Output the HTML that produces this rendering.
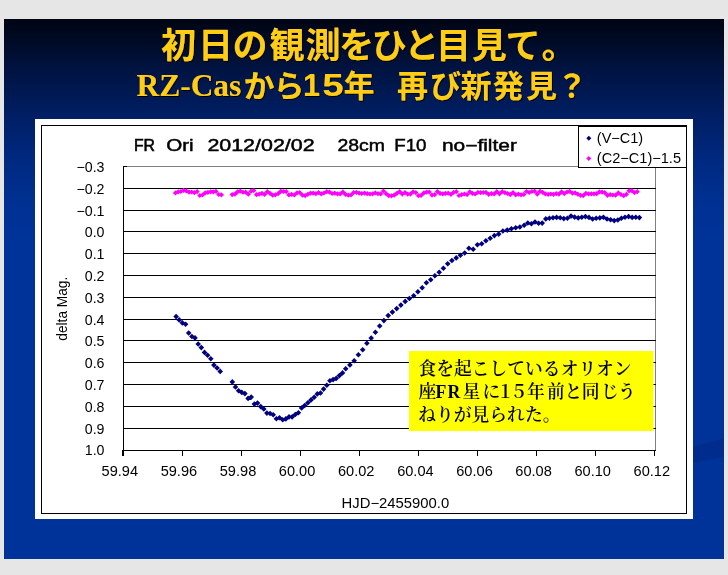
<!DOCTYPE html>
<html lang="ja">
<head>
<meta charset="utf-8">
<title>初日の観測をひと目見て。</title>
<style>
html,body{margin:0;padding:0;}
body{width:728px;height:575px;background:#e6e6e6;overflow:hidden;position:relative;font-family:"Liberation Sans","Noto Sans CJK JP",sans-serif;}
#slide{position:absolute;left:4px;top:19px;width:720px;height:540px;background:linear-gradient(to bottom,rgb(0,5,20) 0px,rgb(0,11,40) 25px,rgb(0,19,65) 50px,rgb(0,31,102) 100px,rgb(0,41,128) 140px,rgb(0,48,145) 180px,rgb(0,51,153) 220px,rgb(0,51,153) 540px);overflow:hidden;}
svg{position:absolute;left:0;top:0;}
.title text{font-family:"Liberation Sans","Noto Sans CJK JP",sans-serif;font-weight:bold;}
.title .rz{font-family:"Liberation Serif","Noto Serif CJK SC",serif;font-weight:bold;}
.lbl text{font-family:"Liberation Sans","Noto Sans CJK JP",sans-serif;font-size:14.2px;fill:#000;}
.lbl .ct text{font-size:16px;font-weight:normal;stroke:#000;stroke-width:0.45px;}
.note text{font-family:"Liberation Serif","Noto Serif CJK SC",serif;font-weight:600;font-size:17.8px;fill:#000;}
</style>
</head>
<body>
<div id="slide"></div>
<svg width="728" height="575" viewBox="0 0 728 575">
  <defs>
  <filter id="sh" x="-5%" y="-20%" width="110%" height="140%">
    <feOffset in="SourceAlpha" dx="1.3" dy="1.3" result="o"/>
    <feMerge><feMergeNode in="o"/><feMergeNode in="SourceGraphic"/></feMerge>
  </filter>
  </defs>
  <!-- template swoosh -->
  <path d="M693 446.5 L724 438 L724 457 L693 463 Z" fill="#001a66" fill-opacity="0.22"/>
  <!-- chart object -->
  <rect x="35" y="119" width="658" height="400" fill="#ffffff"/>
  <rect x="41.5" y="125.5" width="645" height="388" fill="#ffffff" stroke="#000" stroke-width="1"/>
  <!-- plot area -->
  <g shape-rendering="crispEdges">
  <rect x="123.5" y="166.5" width="532" height="283.5" fill="#fff" stroke="#808080" stroke-width="1"/>
  <g stroke="#000" stroke-width="1">
  <line x1="123" y1="188.5" x2="655.5" y2="188.5"/><line x1="123" y1="210.5" x2="655.5" y2="210.5"/><line x1="123" y1="231.5" x2="655.5" y2="231.5"/><line x1="123" y1="253.5" x2="655.5" y2="253.5"/><line x1="123" y1="275.5" x2="655.5" y2="275.5"/><line x1="123" y1="297.5" x2="655.5" y2="297.5"/><line x1="123" y1="319.5" x2="655.5" y2="319.5"/><line x1="123" y1="340.5" x2="655.5" y2="340.5"/><line x1="123" y1="362.5" x2="655.5" y2="362.5"/><line x1="123" y1="384.5" x2="655.5" y2="384.5"/><line x1="123" y1="406.5" x2="655.5" y2="406.5"/><line x1="123" y1="428.5" x2="655.5" y2="428.5"/>
  <line x1="123.5" y1="166" x2="123.5" y2="455.5"/>
  <line x1="123" y1="450.5" x2="656" y2="450.5"/>
  <line x1="123" y1="166.5" x2="127" y2="166.5"/>
  <line x1="122.5" y1="450" x2="122.5" y2="455.5"/><line x1="182.5" y1="450" x2="182.5" y2="455.5"/><line x1="241.5" y1="450" x2="241.5" y2="455.5"/><line x1="300.5" y1="450" x2="300.5" y2="455.5"/><line x1="359.5" y1="450" x2="359.5" y2="455.5"/><line x1="418.5" y1="450" x2="418.5" y2="455.5"/><line x1="477.5" y1="450" x2="477.5" y2="455.5"/><line x1="536.5" y1="450" x2="536.5" y2="455.5"/><line x1="595.5" y1="450" x2="595.5" y2="455.5"/><line x1="654.5" y1="450" x2="654.5" y2="455.5"/>
  </g>
  </g>
  <!-- series -->
  <path fill="#ff00ff" d="M172.9 192.9L175.5 190.3L178.1 192.9L175.5 195.5ZM175.6 191.8L178.2 189.2L180.8 191.8L178.2 194.4ZM178.3 191.5L180.9 188.9L183.5 191.5L180.9 194.1ZM181.0 190.4L183.6 187.8L186.2 190.4L183.6 193.0ZM183.7 190.9L186.3 188.3L188.9 190.9L186.3 193.5ZM186.4 192.1L189.0 189.5L191.6 192.1L189.0 194.7ZM189.1 192.0L191.7 189.4L194.3 192.0L191.7 194.6ZM191.8 192.7L194.4 190.1L197.0 192.7L194.4 195.3ZM194.5 191.6L197.1 189.0L199.7 191.6L197.1 194.2ZM197.2 195.5L199.8 192.9L202.4 195.5L199.8 198.1ZM199.9 195.0L202.5 192.4L205.1 195.0L202.5 197.6ZM202.6 192.9L205.2 190.3L207.8 192.9L205.2 195.5ZM205.3 192.3L207.9 189.7L210.5 192.3L207.9 194.9ZM208.0 191.8L210.6 189.2L213.2 191.8L210.6 194.4ZM210.7 191.8L213.3 189.2L215.9 191.8L213.3 194.4ZM213.4 191.4L216.0 188.8L218.6 191.4L216.0 194.0ZM216.1 194.5L218.7 191.9L221.3 194.5L218.7 197.1ZM218.8 194.8L221.4 192.2L224.0 194.8L221.4 197.4ZM229.6 194.6L232.2 192.0L234.8 194.6L232.2 197.2ZM232.3 194.2L234.9 191.6L237.5 194.2L234.9 196.8ZM235.0 191.8L237.6 189.2L240.2 191.8L237.6 194.4ZM237.7 191.2L240.3 188.6L242.9 191.2L240.3 193.8ZM240.4 192.2L243.0 189.6L245.6 192.2L243.0 194.8ZM243.1 192.2L245.7 189.6L248.3 192.2L245.7 194.8ZM245.8 194.2L248.4 191.6L251.0 194.2L248.4 196.8ZM248.5 191.2L251.1 188.6L253.7 191.2L251.1 193.8ZM251.2 190.5L253.8 187.9L256.4 190.5L253.8 193.1ZM253.9 194.7L256.5 192.1L259.1 194.7L256.5 197.3ZM256.6 194.2L259.2 191.6L261.8 194.2L259.2 196.8ZM259.3 193.3L261.9 190.7L264.5 193.3L261.9 195.9ZM262.0 194.4L264.6 191.8L267.2 194.4L264.6 197.0ZM264.7 191.7L267.3 189.1L269.9 191.7L267.3 194.3ZM267.4 193.3L270.0 190.7L272.6 193.3L270.0 195.9ZM270.1 195.2L272.7 192.6L275.3 195.2L272.7 197.8ZM272.8 194.8L275.4 192.2L278.0 194.8L275.4 197.4ZM275.5 193.7L278.1 191.1L280.7 193.7L278.1 196.3ZM278.2 191.3L280.8 188.7L283.4 191.3L280.8 193.9ZM280.9 191.5L283.5 188.9L286.1 191.5L283.5 194.1ZM283.6 191.6L286.2 189.0L288.8 191.6L286.2 194.2ZM286.3 194.9L288.9 192.3L291.5 194.9L288.9 197.5ZM289.0 194.4L291.6 191.8L294.2 194.4L291.6 197.0ZM291.7 195.0L294.3 192.4L296.9 195.0L294.3 197.6ZM294.4 192.9L297.0 190.3L299.6 192.9L297.0 195.5ZM297.1 192.5L299.7 189.9L302.3 192.5L299.7 195.1ZM299.8 195.1L302.4 192.5L305.0 195.1L302.4 197.7ZM302.5 195.6L305.1 193.0L307.7 195.6L305.1 198.2ZM305.2 194.3L307.8 191.7L310.4 194.3L307.8 196.9ZM307.9 193.2L310.5 190.6L313.1 193.2L310.5 195.8ZM310.6 193.2L313.2 190.6L315.8 193.2L313.2 195.8ZM313.3 193.7L315.9 191.1L318.5 193.7L315.9 196.3ZM316.0 192.6L318.6 190.0L321.2 192.6L318.6 195.2ZM318.7 193.9L321.3 191.3L323.9 193.9L321.3 196.5ZM321.4 193.0L324.0 190.4L326.6 193.0L324.0 195.6ZM324.1 191.7L326.7 189.1L329.3 191.7L326.7 194.3ZM326.8 192.1L329.4 189.5L332.0 192.1L329.4 194.7ZM329.5 193.5L332.1 190.9L334.7 193.5L332.1 196.1ZM332.2 193.2L334.8 190.6L337.4 193.2L334.8 195.8ZM334.9 193.8L337.5 191.2L340.1 193.8L337.5 196.4ZM337.6 193.9L340.2 191.3L342.8 193.9L340.2 196.5ZM340.3 191.9L342.9 189.3L345.5 191.9L342.9 194.5ZM343.0 194.4L345.6 191.8L348.2 194.4L345.6 197.0ZM345.7 195.2L348.3 192.6L350.9 195.2L348.3 197.8ZM348.4 195.0L351.0 192.4L353.6 195.0L351.0 197.6ZM351.1 192.5L353.7 189.9L356.3 192.5L353.7 195.1ZM353.8 192.3L356.4 189.7L359.0 192.3L356.4 194.9ZM356.5 193.1L359.1 190.5L361.7 193.1L359.1 195.7ZM359.2 193.5L361.8 190.9L364.4 193.5L361.8 196.1ZM361.9 193.1L364.5 190.5L367.1 193.1L364.5 195.7ZM364.6 193.7L367.2 191.1L369.8 193.7L367.2 196.3ZM367.3 194.0L369.9 191.4L372.5 194.0L369.9 196.6ZM370.0 193.8L372.6 191.2L375.2 193.8L372.6 196.4ZM372.7 192.9L375.3 190.3L377.9 192.9L375.3 195.5ZM375.4 193.7L378.0 191.1L380.6 193.7L378.0 196.3ZM378.1 193.9L380.7 191.3L383.3 193.9L380.7 196.5ZM380.8 191.0L383.4 188.4L386.0 191.0L383.4 193.6ZM383.5 193.7L386.1 191.1L388.7 193.7L386.1 196.3ZM386.2 195.7L388.8 193.1L391.4 195.7L388.8 198.3ZM388.9 195.8L391.5 193.2L394.1 195.8L391.5 198.4ZM391.6 195.2L394.2 192.6L396.8 195.2L394.2 197.8ZM394.3 193.3L396.9 190.7L399.5 193.3L396.9 195.9ZM397.0 191.7L399.6 189.1L402.2 191.7L399.6 194.3ZM399.7 194.1L402.3 191.5L404.9 194.1L402.3 196.7ZM402.4 192.6L405.0 190.0L407.6 192.6L405.0 195.2ZM405.1 194.1L407.7 191.5L410.3 194.1L407.7 196.7ZM407.8 194.1L410.4 191.5L413.0 194.1L410.4 196.7ZM410.5 191.8L413.1 189.2L415.7 191.8L413.1 194.4ZM413.2 192.6L415.8 190.0L418.4 192.6L415.8 195.2ZM415.9 195.7L418.5 193.1L421.1 195.7L418.5 198.3ZM418.6 195.3L421.2 192.7L423.8 195.3L421.2 197.9ZM421.3 192.9L423.9 190.3L426.5 192.9L423.9 195.5ZM424.0 192.1L426.6 189.5L429.2 192.1L426.6 194.7ZM426.7 192.0L429.3 189.4L431.9 192.0L429.3 194.6ZM429.4 195.1L432.0 192.5L434.6 195.1L432.0 197.7ZM432.1 194.7L434.7 192.1L437.3 194.7L434.7 197.3ZM434.8 191.6L437.4 189.0L440.0 191.6L437.4 194.2ZM437.5 193.4L440.1 190.8L442.7 193.4L440.1 196.0ZM440.2 193.8L442.8 191.2L445.4 193.8L442.8 196.4ZM442.9 193.4L445.5 190.8L448.1 193.4L445.5 196.0ZM445.6 193.2L448.2 190.6L450.8 193.2L448.2 195.8ZM448.3 194.3L450.9 191.7L453.5 194.3L450.9 196.9ZM451.0 192.4L453.6 189.8L456.2 192.4L453.6 195.0ZM453.7 191.7L456.3 189.1L458.9 191.7L456.3 194.3ZM456.4 195.5L459.0 192.9L461.6 195.5L459.0 198.1ZM459.1 194.7L461.7 192.1L464.3 194.7L461.7 197.3ZM461.8 194.0L464.4 191.4L467.0 194.0L464.4 196.6ZM464.5 194.6L467.1 192.0L469.7 194.6L467.1 197.2ZM467.2 191.8L469.8 189.2L472.4 191.8L469.8 194.4ZM469.9 193.4L472.5 190.8L475.1 193.4L472.5 196.0ZM472.6 194.0L475.2 191.4L477.8 194.0L475.2 196.6ZM475.3 192.4L477.9 189.8L480.5 192.4L477.9 195.0ZM478.0 192.7L480.6 190.1L483.2 192.7L480.6 195.3ZM480.7 192.5L483.3 189.9L485.9 192.5L483.3 195.1ZM483.4 192.4L486.0 189.8L488.6 192.4L486.0 195.0ZM486.1 194.3L488.7 191.7L491.3 194.3L488.7 196.9ZM488.8 193.6L491.4 191.0L494.0 193.6L491.4 196.2ZM491.5 193.9L494.1 191.3L496.7 193.9L494.1 196.5ZM494.2 191.7L496.8 189.1L499.4 191.7L496.8 194.3ZM496.9 193.8L499.5 191.2L502.1 193.8L499.5 196.4ZM499.6 191.7L502.2 189.1L504.8 191.7L502.2 194.3ZM502.3 192.7L504.9 190.1L507.5 192.7L504.9 195.3ZM505.0 193.5L507.6 190.9L510.2 193.5L507.6 196.1ZM507.7 194.6L510.3 192.0L512.9 194.6L510.3 197.2ZM510.4 192.5L513.0 189.9L515.6 192.5L513.0 195.1ZM513.1 194.8L515.7 192.2L518.3 194.8L515.7 197.4ZM515.8 194.1L518.4 191.5L521.0 194.1L518.4 196.7ZM518.5 194.8L521.1 192.2L523.7 194.8L521.1 197.4ZM521.2 194.4L523.8 191.8L526.4 194.4L523.8 197.0ZM523.9 191.5L526.5 188.9L529.1 191.5L526.5 194.1ZM526.6 192.4L529.2 189.8L531.8 192.4L529.2 195.0ZM529.3 191.5L531.9 188.9L534.5 191.5L531.9 194.1ZM532.0 191.2L534.6 188.6L537.2 191.2L534.6 193.8ZM534.7 194.1L537.3 191.5L539.9 194.1L537.3 196.7ZM537.4 191.3L540.0 188.7L542.6 191.3L540.0 193.9ZM540.1 192.3L542.7 189.7L545.3 192.3L542.7 194.9ZM542.8 193.9L545.4 191.3L548.0 193.9L545.4 196.5ZM545.5 194.3L548.1 191.7L550.7 194.3L548.1 196.9ZM548.2 194.0L550.8 191.4L553.4 194.0L550.8 196.6ZM550.9 194.3L553.5 191.7L556.1 194.3L553.5 196.9ZM553.6 193.7L556.2 191.1L558.8 193.7L556.2 196.3ZM556.3 194.1L558.9 191.5L561.5 194.1L558.9 196.7ZM559.0 191.8L561.6 189.2L564.2 191.8L561.6 194.4ZM561.7 193.6L564.3 191.0L566.9 193.6L564.3 196.2ZM564.4 192.0L567.0 189.4L569.6 192.0L567.0 194.6ZM567.1 191.4L569.7 188.8L572.3 191.4L569.7 194.0ZM569.8 193.1L572.4 190.5L575.0 193.1L572.4 195.7ZM572.5 192.9L575.1 190.3L577.7 192.9L575.1 195.5ZM575.2 194.2L577.8 191.6L580.4 194.2L577.8 196.8ZM577.9 195.3L580.5 192.7L583.1 195.3L580.5 197.9ZM580.6 195.6L583.2 193.0L585.8 195.6L583.2 198.2ZM583.3 193.3L585.9 190.7L588.5 193.3L585.9 195.9ZM586.0 193.9L588.6 191.3L591.2 193.9L588.6 196.5ZM588.7 193.8L591.3 191.2L593.9 193.8L591.3 196.4ZM591.4 193.8L594.0 191.2L596.6 193.8L594.0 196.4ZM594.1 193.7L596.7 191.1L599.3 193.7L596.7 196.3ZM596.8 191.9L599.4 189.3L602.0 191.9L599.4 194.5ZM599.5 192.1L602.1 189.5L604.7 192.1L602.1 194.7ZM602.2 192.7L604.8 190.1L607.4 192.7L604.8 195.3ZM604.9 195.3L607.5 192.7L610.1 195.3L607.5 197.9ZM607.6 194.7L610.2 192.1L612.8 194.7L610.2 197.3ZM610.3 195.0L612.9 192.4L615.5 195.0L612.9 197.6ZM613.0 195.2L615.6 192.6L618.2 195.2L615.6 197.8ZM615.7 192.9L618.3 190.3L620.9 192.9L618.3 195.5ZM618.4 194.5L621.0 191.9L623.6 194.5L621.0 197.1ZM621.1 195.7L623.7 193.1L626.3 195.7L623.7 198.3ZM623.8 194.3L626.4 191.7L629.0 194.3L626.4 196.9ZM626.5 190.8L629.1 188.2L631.7 190.8L629.1 193.4ZM629.2 190.7L631.8 188.1L634.4 190.7L631.8 193.3ZM631.9 192.6L634.5 190.0L637.1 192.6L634.5 195.2ZM634.6 191.7L637.2 189.1L639.8 191.7L637.2 194.3Z"/>
  <path fill="#000080" d="M173.3 316.6L176.1 313.8L178.9 316.6L176.1 319.4ZM176.4 319.9L179.2 317.1L182.0 319.9L179.2 322.7ZM179.6 322.9L182.4 320.1L185.2 322.9L182.4 325.7ZM182.8 324.2L185.6 321.4L188.4 324.2L185.6 327.0ZM185.9 333.0L188.7 330.2L191.5 333.0L188.7 335.8ZM189.1 336.5L191.9 333.7L194.7 336.5L191.9 339.3ZM192.2 337.9L195.0 335.1L197.8 337.9L195.0 340.7ZM195.4 344.0L198.2 341.2L201.0 344.0L198.2 346.8ZM198.5 347.6L201.3 344.8L204.1 347.6L201.3 350.4ZM201.7 352.4L204.5 349.6L207.3 352.4L204.5 355.2ZM204.8 355.3L207.6 352.5L210.4 355.3L207.6 358.1ZM208.0 358.8L210.8 356.0L213.6 358.8L210.8 361.6ZM211.1 365.1L213.9 362.3L216.7 365.1L213.9 367.9ZM214.3 368.0L217.1 365.2L219.9 368.0L217.1 370.8ZM217.4 371.4L220.2 368.6L223.0 371.4L220.2 374.2ZM229.5 381.9L232.3 379.1L235.1 381.9L232.3 384.7ZM232.7 387.0L235.5 384.2L238.3 387.0L235.5 389.8ZM235.8 390.7L238.6 387.9L241.4 390.7L238.6 393.5ZM239.0 392.4L241.8 389.6L244.6 392.4L241.8 395.2ZM242.1 393.6L244.9 390.8L247.7 393.6L244.9 396.4ZM245.3 398.4L248.1 395.6L250.9 398.4L248.1 401.2ZM248.4 397.1L251.2 394.3L254.0 397.1L251.2 399.9ZM251.6 404.1L254.4 401.3L257.2 404.1L254.4 406.9ZM254.7 403.1L257.5 400.3L260.3 403.1L257.5 405.9ZM257.9 406.6L260.7 403.8L263.5 406.6L260.7 409.4ZM261.0 409.0L263.8 406.2L266.6 409.0L263.8 411.8ZM264.1 413.1L266.9 410.3L269.7 413.1L266.9 415.9ZM267.3 413.5L270.1 410.7L272.9 413.5L270.1 416.3ZM270.4 414.8L273.2 412.0L276.0 414.8L273.2 417.6ZM273.6 418.8L276.4 416.0L279.2 418.8L276.4 421.6ZM276.7 417.8L279.5 415.0L282.3 417.8L279.5 420.6ZM279.9 419.7L282.7 416.9L285.5 419.7L282.7 422.5ZM283.0 418.9L285.8 416.1L288.6 418.9L285.8 421.7ZM286.2 416.9L289.0 414.1L291.8 416.9L289.0 419.7ZM289.3 416.9L292.1 414.1L294.9 416.9L292.1 419.7ZM292.5 414.5L295.3 411.7L298.1 414.5L295.3 417.3ZM295.6 412.8L298.4 410.0L301.2 412.8L298.4 415.6ZM298.8 407.9L301.6 405.1L304.4 407.9L301.6 410.7ZM301.9 405.5L304.7 402.7L307.5 405.5L304.7 408.3ZM305.1 402.7L307.9 399.9L310.7 402.7L307.9 405.5ZM308.2 399.9L311.0 397.1L313.8 399.9L311.0 402.7ZM311.4 397.2L314.2 394.4L317.0 397.2L314.2 400.0ZM314.5 393.9L317.3 391.1L320.1 393.9L317.3 396.7ZM317.7 393.0L320.5 390.2L323.3 393.0L320.5 395.8ZM320.8 389.1L323.6 386.3L326.4 389.1L323.6 391.9ZM324.0 385.2L326.8 382.4L329.6 385.2L326.8 388.0ZM327.1 380.8L329.9 378.0L332.7 380.8L329.9 383.6ZM330.3 379.6L333.1 376.8L335.9 379.6L333.1 382.4ZM333.4 378.4L336.2 375.6L339.0 378.4L336.2 381.2ZM336.6 375.6L339.4 372.8L342.2 375.6L339.4 378.4ZM339.7 372.9L342.5 370.1L345.3 372.9L342.5 375.7ZM342.9 368.8L345.7 366.0L348.5 368.8L345.7 371.6ZM347.1 364.9L349.9 362.1L352.7 364.9L349.9 367.7ZM351.4 360.7L354.2 357.9L357.0 360.7L354.2 363.5ZM355.6 354.8L358.4 352.0L361.2 354.8L358.4 357.6ZM359.9 349.7L362.7 346.9L365.5 349.7L362.7 352.5ZM364.1 343.2L366.9 340.4L369.7 343.2L366.9 346.0ZM368.4 338.1L371.2 335.3L374.0 338.1L371.2 340.9ZM372.6 332.2L375.4 329.4L378.2 332.2L375.4 335.0ZM376.9 326.0L379.7 323.2L382.5 326.0L379.7 328.8ZM381.1 320.6L383.9 317.8L386.7 320.6L383.9 323.4ZM385.4 315.6L388.2 312.8L391.0 315.6L388.2 318.4ZM389.6 312.1L392.4 309.3L395.2 312.1L392.4 314.9ZM393.9 308.6L396.7 305.8L399.5 308.6L396.7 311.4ZM398.1 305.1L400.9 302.3L403.7 305.1L400.9 307.9ZM402.4 301.4L405.2 298.6L408.0 301.4L405.2 304.2ZM406.6 298.5L409.4 295.7L412.2 298.5L409.4 301.3ZM410.9 295.8L413.7 293.0L416.5 295.8L413.7 298.6ZM415.1 291.7L417.9 288.9L420.7 291.7L417.9 294.5ZM419.4 287.7L422.2 284.9L425.0 287.7L422.2 290.5ZM423.6 282.7L426.4 279.9L429.2 282.7L426.4 285.5ZM427.9 279.7L430.7 276.9L433.5 279.7L430.7 282.5ZM432.1 275.7L434.9 272.9L437.7 275.7L434.9 278.5ZM436.4 272.3L439.2 269.5L442.0 272.3L439.2 275.1ZM440.6 268.2L443.4 265.4L446.2 268.2L443.4 271.0ZM444.9 263.7L447.7 260.9L450.5 263.7L447.7 266.5ZM449.1 260.5L451.9 257.7L454.7 260.5L451.9 263.3ZM453.4 257.9L456.2 255.1L459.0 257.9L456.2 260.7ZM457.6 255.2L460.4 252.4L463.2 255.2L460.4 258.0ZM461.9 253.0L464.7 250.2L467.5 253.0L464.7 255.8ZM466.1 248.3L468.9 245.5L471.7 248.3L468.9 251.1ZM470.4 249.2L473.2 246.4L476.0 249.2L473.2 252.0ZM474.6 244.8L477.4 242.0L480.2 244.8L477.4 247.6ZM478.9 243.8L481.7 241.0L484.5 243.8L481.7 246.6ZM483.1 240.7L485.9 237.9L488.7 240.7L485.9 243.5ZM487.4 238.3L490.2 235.5L493.0 238.3L490.2 241.1ZM491.6 235.6L494.4 232.8L497.2 235.6L494.4 238.4ZM495.9 234.1L498.7 231.3L501.5 234.1L498.7 236.9ZM500.1 231.0L502.9 228.2L505.7 231.0L502.9 233.8ZM504.4 230.1L507.2 227.3L510.0 230.1L507.2 232.9ZM508.6 228.7L511.4 225.9L514.2 228.7L511.4 231.5ZM512.9 227.8L515.7 225.0L518.5 227.8L515.7 230.6ZM517.1 227.0L519.9 224.2L522.7 227.0L519.9 229.8ZM521.4 225.2L524.2 222.4L527.0 225.2L524.2 228.0ZM525.0 223.0L527.8 220.2L530.6 223.0L527.8 225.8ZM528.6 223.7L531.4 220.9L534.2 223.7L531.4 226.5ZM532.2 222.0L535.0 219.2L537.8 222.0L535.0 224.8ZM535.8 223.2L538.6 220.4L541.4 223.2L538.6 226.0ZM539.4 223.1L542.2 220.3L545.0 223.1L542.2 225.9ZM543.0 218.9L545.8 216.1L548.6 218.9L545.8 221.7ZM546.6 218.2L549.4 215.4L552.2 218.2L549.4 221.0ZM550.2 217.7L553.0 214.9L555.8 217.7L553.0 220.5ZM553.8 217.4L556.6 214.6L559.4 217.4L556.6 220.2ZM557.4 217.7L560.2 214.9L563.0 217.7L560.2 220.5ZM561.0 218.6L563.8 215.8L566.6 218.6L563.8 221.4ZM564.6 218.2L567.4 215.4L570.2 218.2L567.4 221.0ZM568.2 216.1L571.0 213.3L573.8 216.1L571.0 218.9ZM571.8 217.1L574.6 214.3L577.4 217.1L574.6 219.9ZM575.4 217.9L578.2 215.1L581.0 217.9L578.2 220.7ZM579.0 217.3L581.8 214.5L584.6 217.3L581.8 220.1ZM582.6 216.6L585.4 213.8L588.2 216.6L585.4 219.4ZM586.2 217.4L589.0 214.6L591.8 217.4L589.0 220.2ZM589.8 219.0L592.6 216.2L595.4 219.0L592.6 221.8ZM593.4 218.3L596.2 215.5L599.0 218.3L596.2 221.1ZM597.0 217.9L599.8 215.1L602.6 217.9L599.8 220.7ZM600.6 217.3L603.4 214.5L606.2 217.3L603.4 220.1ZM604.2 219.0L607.0 216.2L609.8 219.0L607.0 221.8ZM607.8 219.8L610.6 217.0L613.4 219.8L610.6 222.6ZM611.4 220.6L614.2 217.8L617.0 220.6L614.2 223.4ZM615.0 220.0L617.8 217.2L620.6 220.0L617.8 222.8ZM618.6 218.2L621.4 215.4L624.2 218.2L621.4 221.0ZM622.2 217.3L625.0 214.5L627.8 217.3L625.0 220.1ZM625.8 216.6L628.6 213.8L631.4 216.6L628.6 219.4ZM629.4 217.4L632.2 214.6L635.0 217.4L632.2 220.2ZM633.0 217.2L635.8 214.4L638.6 217.2L635.8 220.0ZM636.6 217.6L639.4 214.8L642.2 217.6L639.4 220.4Z"/>
  <!-- legend -->
  <rect x="578.5" y="126.5" width="108" height="41" fill="#fff" stroke="#000" stroke-width="1" shape-rendering="crispEdges"/>
  <path fill="#000080" d="M586.3 138.2L588.8 135.7L591.3 138.2L588.8 140.7Z"/>
  <path fill="#ff00ff" d="M586.3 158.4L588.8 155.9L591.3 158.4L588.8 160.9Z"/>
  <g class="lbl">
  <text x="596.8" y="142.9" textLength="46.4" lengthAdjust="spacingAndGlyphs">(V−C1)</text>
  <text x="596.8" y="163.4" textLength="84.2" lengthAdjust="spacingAndGlyphs">(C2−C1)−1.5</text>
  <text x="104.5" y="171.9" text-anchor="end">−0.3</text><text x="104.5" y="193.7" text-anchor="end">−0.2</text><text x="104.5" y="215.5" text-anchor="end">−0.1</text><text x="104.5" y="237.3" text-anchor="end">0.0</text><text x="104.5" y="259.1" text-anchor="end">0.1</text><text x="104.5" y="280.9" text-anchor="end">0.2</text><text x="104.5" y="302.7" text-anchor="end">0.3</text><text x="104.5" y="324.6" text-anchor="end">0.4</text><text x="104.5" y="346.4" text-anchor="end">0.5</text><text x="104.5" y="368.2" text-anchor="end">0.6</text><text x="104.5" y="390.0" text-anchor="end">0.7</text><text x="104.5" y="411.8" text-anchor="end">0.8</text><text x="104.5" y="433.6" text-anchor="end">0.9</text><text x="104.5" y="455.4" text-anchor="end">1.0</text>
  <text x="119.8" y="476.3" text-anchor="middle" textLength="36.5" lengthAdjust="spacingAndGlyphs">59.94</text><text x="178.9" y="476.3" text-anchor="middle" textLength="36.5" lengthAdjust="spacingAndGlyphs">59.96</text><text x="238.0" y="476.3" text-anchor="middle" textLength="36.5" lengthAdjust="spacingAndGlyphs">59.98</text><text x="297.1" y="476.3" text-anchor="middle" textLength="36.5" lengthAdjust="spacingAndGlyphs">60.00</text><text x="356.2" y="476.3" text-anchor="middle" textLength="36.5" lengthAdjust="spacingAndGlyphs">60.02</text><text x="415.4" y="476.3" text-anchor="middle" textLength="36.5" lengthAdjust="spacingAndGlyphs">60.04</text><text x="474.5" y="476.3" text-anchor="middle" textLength="36.5" lengthAdjust="spacingAndGlyphs">60.06</text><text x="533.6" y="476.3" text-anchor="middle" textLength="36.5" lengthAdjust="spacingAndGlyphs">60.08</text><text x="592.7" y="476.3" text-anchor="middle" textLength="36.5" lengthAdjust="spacingAndGlyphs">60.10</text><text x="651.8" y="476.3" text-anchor="middle" textLength="36.5" lengthAdjust="spacingAndGlyphs">60.12</text>
  <text x="395.4" y="507.5" text-anchor="middle" textLength="107.7" lengthAdjust="spacingAndGlyphs">HJD−2455900.0</text>
  <text transform="translate(67.0 308.7) rotate(-90)" text-anchor="middle" textLength="64" lengthAdjust="spacingAndGlyphs">delta Mag.</text>
  <g class="ct">
  <text x="134" y="150.7" textLength="21" lengthAdjust="spacingAndGlyphs" style="stroke-width:0.6px">FR</text>
  <text x="166.2" y="150.7" textLength="27.4" lengthAdjust="spacingAndGlyphs">Ori</text>
  <text x="207.4" y="150.7" textLength="107.2" lengthAdjust="spacingAndGlyphs">2012/02/02</text>
  <text x="337.5" y="150.7" textLength="47.5" lengthAdjust="spacingAndGlyphs">28cm</text>
  <text x="394.2" y="150.7" textLength="32.3" lengthAdjust="spacingAndGlyphs">F10</text>
  <text x="442" y="150.7" textLength="74.9" lengthAdjust="spacingAndGlyphs">no−filter</text>
  </g>
  </g>
  <!-- note -->
  <rect x="409" y="351" width="244.5" height="80" fill="#ffff00"/>
  <g class="note">
  <text x="418.4" y="375">食を起こしているオリオン</text><text x="418.4" y="397.8">座</text><text x="435.6 447.6" y="397.8" style="font-weight:bold">FR</text><text x="462.6 482.4 496.4 510.1 527.1 546.9 564.4 581.7 600.9 618.1" y="397.8">星に１５年前と同じう</text><text x="418.2" y="420.5">ねりが見られた。</text>
  </g>
  <!-- title -->
  <g class="title" fill="#ffcc19" filter="url(#sh)">
  <text x="160.9 198.0 232.6 269.6 305.5 338.9 371.8 404.3 436.0 471.8 505.5 541.6" y="57.8" font-size="35">初日の観測をひと目見て。</text><text class="rz" x="136.6" y="96.3" font-size="31.4">RZ-Cas</text><text x="243.4 273.5" y="96.6" font-size="31">から</text><text y="96.3" font-size="30.5"><tspan x="302.9">1</tspan><tspan x="322.2" textLength="21.4" lengthAdjust="spacingAndGlyphs">5</tspan></text><text x="343.5 364.3 397.0 430.0 460.5 492.7 526.1 556.2" y="96.6" font-size="31">年　再び新発見？</text>
  </g>
</svg>
</body>
</html>
